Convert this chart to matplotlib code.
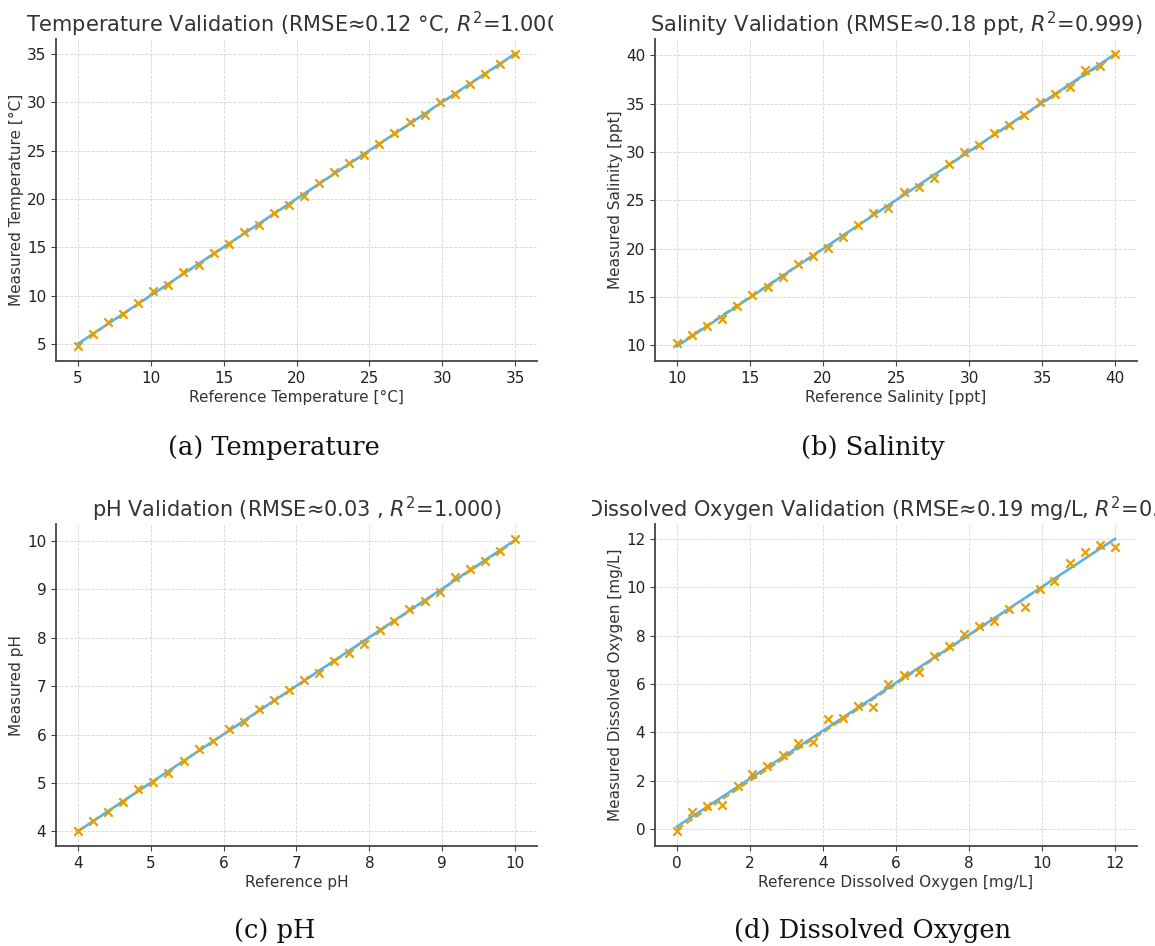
import numpy as np
import matplotlib
matplotlib.use("Agg")
import matplotlib.pyplot as plt
from matplotlib.transforms import Bbox, TransformedBbox

# reference values (evenly spaced standards) and measured readings
temp_ref = [5.00, 6.03, 7.07, 8.10, 9.14, 10.17, 11.21, 12.24, 13.28, 14.31,
            15.34, 16.38, 17.41, 18.45, 19.48, 20.52, 21.55, 22.59, 23.62, 24.66,
            25.69, 26.72, 27.76, 28.79, 29.83, 30.86, 31.90, 32.93, 33.97, 35.00]
temp_meas = [4.76, 6.03, 7.24, 8.14, 9.24, 10.48, 11.07, 12.41, 13.14, 14.41,
             15.31, 16.59, 17.31, 18.55, 19.34, 20.28, 21.69, 22.83, 23.72, 24.59,
             25.72, 26.86, 27.97, 28.69, 30.00, 30.90, 31.93, 32.97, 33.97, 35.00]

sal_ref = [10.00, 11.03, 12.07, 13.10, 14.14, 15.17, 16.21, 17.24, 18.28, 19.31,
           20.34, 21.38, 22.41, 23.45, 24.48, 25.52, 26.55, 27.59, 28.62, 29.66,
           30.69, 31.72, 32.76, 33.79, 34.83, 35.86, 36.90, 37.93, 38.97, 40.00]
sal_meas = [10.24, 11.10, 12.00, 12.66, 14.04, 15.15, 15.98, 17.01, 18.43, 19.26,
            20.02, 21.16, 22.41, 23.72, 24.24, 25.83, 26.42, 27.28, 28.77, 29.94,
            30.67, 31.91, 32.78, 33.81, 35.16, 35.99, 36.75, 38.44, 38.86, 40.17]

ph_ref = [4.00, 4.21, 4.41, 4.62, 4.83, 5.03, 5.24, 5.45, 5.66, 5.86,
          6.07, 6.28, 6.48, 6.69, 6.90, 7.10, 7.31, 7.52, 7.72, 7.93,
          8.14, 8.34, 8.55, 8.76, 8.97, 9.17, 9.38, 9.59, 9.79, 10.00]
ph_meas = [4.01, 4.21, 4.41, 4.61, 4.87, 5.01, 5.21, 5.45, 5.71, 5.86,
           6.12, 6.27, 6.52, 6.72, 6.92, 7.13, 7.28, 7.52, 7.69, 7.88,
           8.17, 8.34, 8.59, 8.77, 8.94, 9.26, 9.42, 9.59, 9.80, 10.05]

do_ref = [0.00, 0.41, 0.83, 1.24, 1.66, 2.07, 2.48, 2.90, 3.31, 3.72,
          4.14, 4.55, 4.97, 5.38, 5.79, 6.21, 6.62, 7.03, 7.45, 7.86,
          8.28, 8.69, 9.10, 9.52, 9.93, 10.34, 10.76, 11.17, 11.59, 12.00]
do_meas = [-0.08, 0.70, 0.95, 0.99, 1.80, 2.27, 2.60, 3.07, 3.56, 3.62,
           4.56, 4.58, 5.11, 5.06, 5.99, 6.37, 6.51, 7.17, 7.57, 8.05,
           8.39, 8.59, 9.10, 9.19, 9.92, 10.25, 10.98, 11.44, 11.72, 11.66]

panels = [
    (temp_ref, temp_meas, "Temperature Validation (RMSE≈0.12 °C, $R^2$=1.000)",
     "Reference Temperature [°C]", "Measured Temperature [°C]", "(a) Temperature"),
    (sal_ref, sal_meas, "Salinity Validation (RMSE≈0.18 ppt, $R^2$=0.999)",
     "Reference Salinity [ppt]", "Measured Salinity [ppt]", "(b) Salinity"),
    (ph_ref, ph_meas, "pH Validation (RMSE≈0.03 , $R^2$=1.000)",
     "Reference pH", "Measured pH", "(c) pH"),
    (do_ref, do_meas, "Dissolved Oxygen Validation (RMSE≈0.19 mg/L, $R^2$=0.997)",
     "Reference Dissolved Oxygen [mg/L]", "Measured Dissolved Oxygen [mg/L]",
     "(d) Dissolved Oxygen"),
]

W, H = 1155, 946
ORANGE = "#E69F00"
BLUE = "#56B4E9"

plt.rcParams['font.family'] = ['DejaVu Sans']
plt.rcParams['axes.edgecolor'] = '#444444'
plt.rcParams['axes.labelcolor'] = '#333333'
plt.rcParams['axes.labelsize'] = 11
plt.rcParams['xtick.labelsize'] = 11
plt.rcParams['ytick.labelsize'] = 11
plt.rcParams['xtick.color'] = '#444444'
plt.rcParams['ytick.color'] = '#444444'
plt.rcParams['xtick.labelcolor'] = '#222222'
plt.rcParams['ytick.labelcolor'] = '#222222'

fig = plt.figure(figsize=(W / 100, H / 100), dpi=100)

# pixel boxes: (left, right, top, bottom) of each axes, and column clip ranges
boxes = [(56, 537, 39, 361), (655, 1137, 39, 361),
         (56, 537, 524, 846), (655, 1137, 524, 846)]
clips = [(0, 553), (592, 1155), (0, 553), (592, 1155)]
captions_xy = [(274, 447), (873, 447), (275, 930), (873, 930)]

for i, (ref, meas, title, xl, yl, cap) in enumerate(panels):
    l, r, t, b = boxes[i]
    ax = fig.add_axes([l / W, 1 - b / H, (r - l) / W, (b - t) / H])
    ref = np.array(ref)
    meas = np.array(meas)
    k, c = np.polyfit(ref, meas, 1)
    xs = np.array([ref.min(), ref.max()])
    ax.plot(xs, xs, ls='--', color=ORANGE, lw=1.5, zorder=2)
    ax.plot(xs, k * xs + c, color=BLUE, lw=1.8, zorder=3)
    ax.scatter(ref, meas, marker='x', color=ORANGE, s=36, linewidths=1.6, zorder=4)
    ax.grid(True, ls='--', lw=0.6, color='#d5d5d5')
    ax.set_axisbelow(True)
    for s in ['top', 'right']:
        ax.spines[s].set_visible(False)
    for s in ['left', 'bottom']:
        ax.spines[s].set_linewidth(1.3)
    ax.set_xlabel(xl, labelpad=3)
    ax.set_ylabel(yl, labelpad=2)
    ttl = ax.set_title(title, fontsize=15, color='#333333', pad=4)
    # the original panels were cropped to their column, cutting long titles
    x0, x1 = clips[i]
    clip = TransformedBbox(Bbox.from_extents(x0 / W, 0, x1 / W, 1), fig.transFigure)
    ttl.set_clip_box(clip)
    ttl.set_clip_on(True)
    cx, cy = captions_xy[i]
    fig.text(cx / W, 1 - cy / H, cap, ha='center', va='center',
             family='DejaVu Serif', fontsize=18.5, color='#111111')

fig.savefig("out.png", dpi=100)
